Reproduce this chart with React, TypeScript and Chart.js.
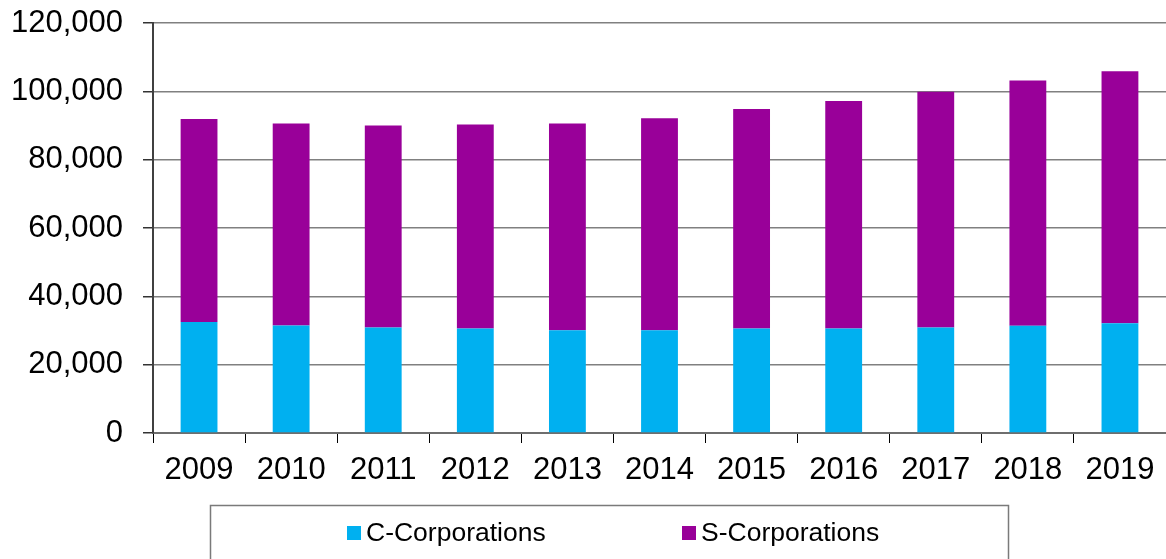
import React, { useEffect, useRef } from "react";
import { Chart, registerables } from "chart.js";

Chart.register(...registerables);

const categories = ["2009", "2010", "2011", "2012", "2013", "2014", "2015", "2016", "2017", "2018", "2019"];
const cCorporations = [32500, 31500, 30900, 30600, 30100, 30100, 30600, 30600, 30900, 31400, 32100];
const sCorporations = [59400, 59100, 59100, 59700, 60500, 62000, 64200, 66600, 69000, 71800, 73800];
const seriesNames = ["C-Corporations", "S-Corporations"];
const seriesColors = ["#00B0F0", "#990099"];
const yTicks = { min: 0, max: 120000, step: 20000 };

const FONT = "'Liberation Sans', Arial, sans-serif";

const boxLegend = {
  id: "boxLegend",
  afterDraw(chart: any) {
    const ctx = chart.ctx;
    ctx.save();
    ctx.strokeStyle = "#7a7a7a";
    ctx.lineWidth = 1.5;
    ctx.strokeRect(210.5, 505.5, 798, 100);
    const items = [
      { x: 347, label: seriesNames[0], color: seriesColors[0] },
      { x: 682, label: seriesNames[1], color: seriesColors[1] },
    ];
    ctx.font = `26.5px ${FONT}`;
    ctx.textBaseline = "middle";
    ctx.textAlign = "left";
    for (const it of items) {
      ctx.fillStyle = it.color;
      ctx.fillRect(it.x, 526, 14, 14);
      ctx.fillStyle = "#000";
      ctx.fillText(it.label, it.x + 19, 534);
    }
    ctx.restore();
  },
};

export default function App() {
  const ref = useRef<HTMLCanvasElement | null>(null);
  useEffect(() => {
    document.body.style.margin = "0";
    const chart = new Chart(ref.current!, {
      type: "bar",
      data: {
        labels: categories,
        datasets: [
          { label: seriesNames[0], data: cCorporations, backgroundColor: seriesColors[0], borderWidth: 0, barPercentage: 0.4, categoryPercentage: 1 },
          { label: seriesNames[1], data: sCorporations, backgroundColor: seriesColors[1], borderWidth: 0, barPercentage: 0.4, categoryPercentage: 1 },
        ],
      },
      options: {
        animation: false,
        responsive: false,
        maintainAspectRatio: false,
        layout: { padding: { top: 23, right: 0, left: 0, bottom: 0 } },
        plugins: { legend: { display: false }, tooltip: { enabled: false } },
        scales: {
          x: {
            stacked: true,
            grid: { display: true, drawOnChartArea: false, offset: true, tickLength: 10, color: "#000", lineWidth: 1 },
            border: { display: true, color: "#6e6e6e", width: 2 },
            ticks: { color: "#000", font: { family: FONT, size: 31 }, padding: 9, maxRotation: 0, autoSkip: false },
            afterFit: (s: any) => { s.height = 126; s.paddingLeft = 0; s.paddingRight = 0; },
          },
          y: {
            stacked: true,
            min: yTicks.min,
            max: yTicks.max,
            grid: { color: "#808080", lineWidth: 1.5, tickLength: 10, tickColor: "#333" },
            border: { display: true, color: "#404040", width: 2 },
            ticks: {
              stepSize: yTicks.step,
              color: "#000",
              font: { family: FONT, size: 31 },
              padding: 20,
              callback: (v: any) => Number(v).toLocaleString("en-US"),
            },
            afterFit: (s: any) => { s.width = 153; s.paddingTop = 0; s.paddingBottom = 0; },
          },
        },
      },
      plugins: [boxLegend],
    });
    return () => chart.destroy();
  }, []);
  return <canvas ref={ref} width={1166} height={559} style={{ display: "block" }} />;
}
